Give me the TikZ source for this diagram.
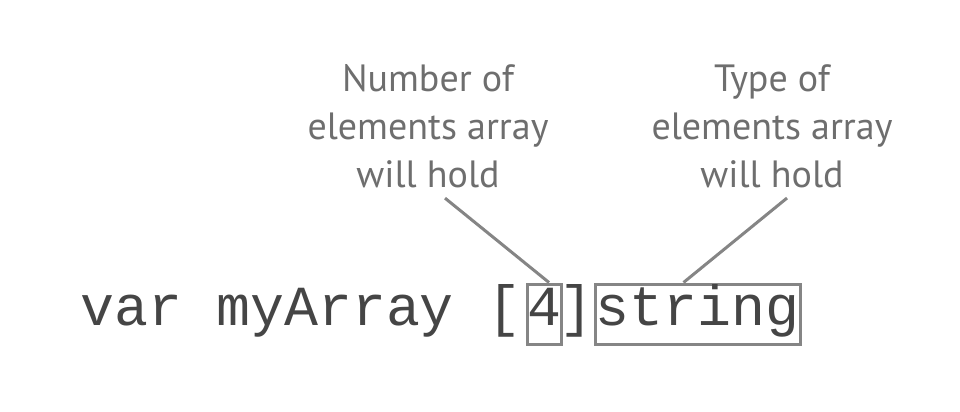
\documentclass[tikz,border=0pt]{standalone}
\usepackage{fontspec}
\setmainfont{PT Sans}
\setmonofont{Liberation Mono}
\definecolor{codegray}{HTML}{454545}
\definecolor{boxgray}{HTML}{858585}
\definecolor{notegray}{HTML}{6E6E6E}
\begin{document}
\begin{tikzpicture}[x=0.5pt,y=-0.5pt,
  code/.style={font=\ttfamily\fontsize{28.3}{34}\selectfont,text=codegray,inner sep=0pt},
  frame/.style={code,draw=boxgray,line width=1.5pt,text height=20.5pt,text depth=9.5pt},
  note/.style={font=\fontsize{19}{24}\selectfont,text=notegray,align=center,inner sep=0pt}]
  \useasboundingbox (0,0) rectangle (960,412);
  \node[code,anchor=base west] (decl) at (80,325) {var myArray [};
  \node[frame,anchor=base,minimum width=17pt] (num) at (544,325) {4};
  \node[code,anchor=base] (close) at (576,325) {]};
  \node[frame,anchor=base,minimum width=102.5pt] (typ) at (697.5,325) {string};
  \node[note] (lab1) at (428,126) {Number of\\elements array\\will hold};
  \node[note] (lab2) at (772,126) {Type of\\elements array\\will hold};
  % callouts from the notes to the boxed parts
  \draw[boxgray,line width=1.5pt] ([xshift=8.5pt,yshift=-5pt]lab1.south) -- ([xshift=2.5pt]num.north);
  \draw[boxgray,line width=1.5pt] ([xshift=7.5pt,yshift=-5pt]lab2.south) -- ([xshift=-7pt]typ.north);
\end{tikzpicture}
\end{document}
